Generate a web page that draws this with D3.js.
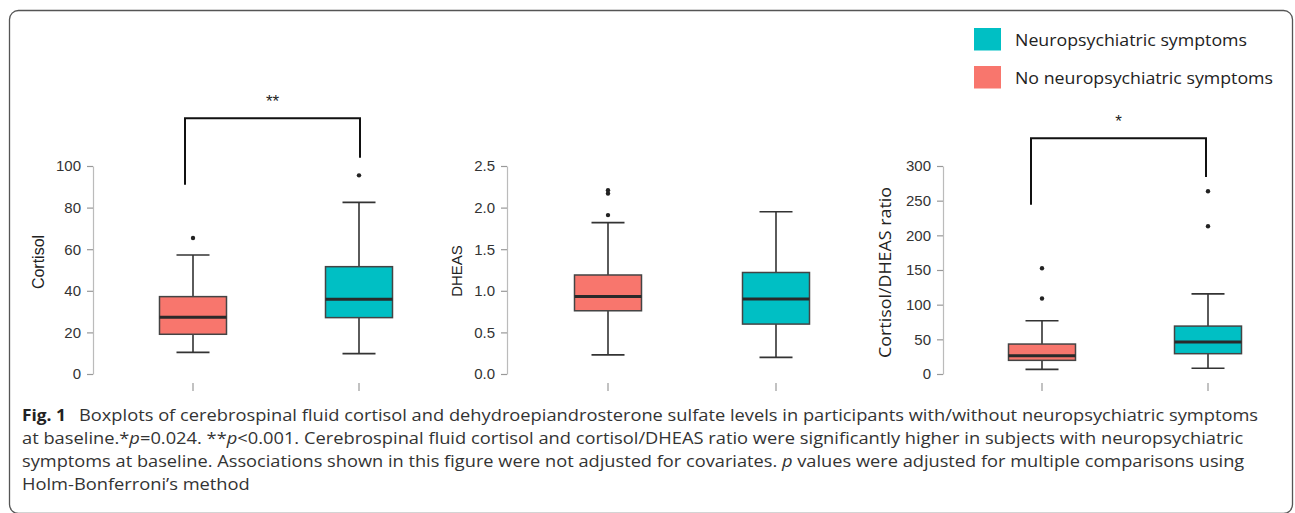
<!DOCTYPE html>
<html>
<head>
<meta charset="utf-8">
<script src="https://cdn.jsdelivr.net/npm/d3@7"></script>
<style>
  html, body { margin: 0; padding: 0; background: #fff; }
  svg { display: block; }
</style>
</head>
<body>
<svg id="chart" width="1295" height="513"></svg>
<script>
// ---------------- DATA ----------------
const groups = ["No neuropsychiatric symptoms", "Neuropsychiatric symptoms"];
const groupColors = ["#F8766D", "#00BFC4"];
const legendOrder = ["Neuropsychiatric symptoms", "No neuropsychiatric symptoms"];

// box stats: [lower whisker, Q1, median, Q3, upper whisker]
const cortisolNo = [10.4, 19.1, 27.3, 37.2, 57.2];
const cortisolYes = [9.8, 27.1, 35.9, 51.6, 82.5];
const cortisolNoOut = [65.4];
const cortisolYesOut = [95.5];
const cortisolTicks = [0, 20, 40, 60, 80, 100];
const cortisolBracket = [91, 123, 104]; // left leg end, top, right leg end (data units)
const cortisolSig = "**";

const dheasNo = [0.23, 0.76, 0.93, 1.19, 1.82];
const dheasYes = [0.20, 0.60, 0.90, 1.22, 1.95];
const dheasNoOut = [1.91, 2.17, 2.21];
const dheasYesOut = [];
const dheasTicks = [0, 0.5, 1.0, 1.5, 2.0, 2.5];

const ratioNo = [6.7, 19.7, 26.4, 43.2, 76.8];
const ratioYes = [8.2, 29.3, 46.1, 69.1, 115.6];
const ratioNoOut = [109, 152.6];
const ratioYesOut = [213, 263.5];
const ratioTicks = [0, 50, 100, 150, 200, 250, 300];
const ratioBracket = [244, 340, 284];
const ratioSig = "*";

const captionBold = "Fig. 1";
const captionLine1 = "Boxplots of cerebrospinal fluid cortisol and dehydroepiandrosterone sulfate levels in participants with/without neuropsychiatric symptoms";
const captionLine2 = [["at baseline.*", false], ["p", true], ["=0.024. **", false], ["p", true], ["<0.001. Cerebrospinal fluid cortisol and cortisol/DHEAS ratio were significantly higher in subjects with neuropsychiatric", false]];
const captionLine3 = [["symptoms at baseline. Associations shown in this figure were not adjusted for covariates. ", false], ["p", true], [" values were adjusted for multiple comparisons using", false]];
const captionLine4 = "Holm-Bonferroni\u2019s method";

// ---------------- LAYOUT ----------------
const svg = d3.select("#chart");
const tickFont = "'Liberation Sans', Arial, sans-serif";
const humanFont = "'Open Sans', 'Noto Sans', sans-serif";

// outer frame
svg.append("rect")
  .attr("x", 9.5).attr("y", 10.5)
  .attr("width", 1283).attr("height", 503)
  .attr("rx", 9).attr("ry", 9)
  .attr("fill", "none").attr("stroke", "#555").attr("stroke-width", 1.3);

const panels = [
  { stats: [cortisolNo, cortisolYes], outs: [cortisolNoOut, cortisolYesOut], ticks: cortisolTicks,
    domain: [0, 100], axisX: 93, xr: [193, 359], label: "Cortisol", labelX: 38, labelY: 262,
    labelFont: tickFont, labelSize: 16, bracket: cortisolBracket, sig: cortisolSig, bOff: [-8, 1] },
  { stats: [dheasNo, dheasYes], outs: [dheasNoOut, dheasYesOut], ticks: dheasTicks,
    domain: [0, 2.5], axisX: 507, xr: [608, 776], label: "DHEAS", labelX: 456, labelY: 271,
    labelFont: tickFont, labelSize: 15, fmt: d3.format(".1f") },
  { stats: [ratioNo, ratioYes], outs: [ratioNoOut, ratioYesOut], ticks: ratioTicks,
    domain: [0, 300], axisX: 943, xr: [1042, 1208], label: "Cortisol/DHEAS ratio", labelX: 884, labelY: 272.5,
    labelFont: humanFont, labelSize: 17, labelLen: 171, bracket: ratioBracket, sig: ratioSig, bOff: [-11, -2] }
];

const yTop = 166, yBottom = 374;
const boxW = 67, capW = 33;

panels.forEach(p => {
  const y = d3.scaleLinear().domain(p.domain).range([yBottom, yTop]);
  const x = d3.scalePoint().domain(groups).range(p.xr);
  const g = svg.append("g");

  // y axis
  const axis = d3.axisLeft(y).tickValues(p.ticks).tickSize(6).tickSizeOuter(0).tickPadding(6);
  if (p.fmt) axis.tickFormat(p.fmt);
  const ag = g.append("g").attr("transform", `translate(${p.axisX},0)`).call(axis);
  ag.select(".domain").attr("stroke", "#bbb").attr("stroke-width", 1.2);
  ag.selectAll(".tick line").attr("stroke", "#999").attr("stroke-width", 1.2);
  ag.selectAll(".tick text").attr("fill", "#333").style("font-family", tickFont).style("font-size", "15px");

  // x ticks (no axis line)
  g.selectAll(".xt").data(groups).enter().append("line")
    .attr("x1", d => x(d)).attr("x2", d => x(d))
    .attr("y1", 383).attr("y2", 391)
    .attr("stroke", "#999").attr("stroke-width", 1.2);

  // y axis label
  const lab = g.append("text")
    .attr("transform", `translate(${p.labelX},${p.labelY}) rotate(-90)`)
    .attr("text-anchor", "middle").attr("dominant-baseline", "central")
    .style("font-family", p.labelFont).style("font-size", p.labelSize + "px")
    .attr("fill", "#222").text(p.label);
  if (p.labelLen) lab.attr("textLength", p.labelLen).attr("lengthAdjust", "spacingAndGlyphs");

  // boxes
  groups.forEach((grp, i) => {
    const s = p.stats[i];
    const cx = x(grp);
    const bg = g.append("g");
    // whisker stems
    bg.append("line").attr("x1", cx).attr("x2", cx).attr("y1", y(s[0])).attr("y2", y(s[1]))
      .attr("stroke", "#333").attr("stroke-width", 1.6);
    bg.append("line").attr("x1", cx).attr("x2", cx).attr("y1", y(s[3])).attr("y2", y(s[4]))
      .attr("stroke", "#333").attr("stroke-width", 1.6);
    // caps
    [s[0], s[4]].forEach(v => {
      bg.append("line").attr("x1", cx - capW / 2).attr("x2", cx + capW / 2)
        .attr("y1", y(v)).attr("y2", y(v)).attr("stroke", "#333").attr("stroke-width", 1.6);
    });
    // box
    bg.append("rect").attr("x", cx - boxW / 2).attr("width", boxW)
      .attr("y", y(s[3])).attr("height", y(s[1]) - y(s[3]))
      .attr("fill", groupColors[i]).attr("stroke", "#444").attr("stroke-width", 1.5);
    // median
    bg.append("line").attr("x1", cx - boxW / 2).attr("x2", cx + boxW / 2)
      .attr("y1", y(s[2])).attr("y2", y(s[2])).attr("stroke", "#2a2a2a").attr("stroke-width", 3);
    // outliers
    bg.selectAll(".o").data(p.outs[i]).enter().append("circle")
      .attr("cx", cx).attr("cy", d => y(d)).attr("r", 2.2).attr("fill", "#222");
  });

  // significance bracket
  if (p.bracket) {
    const b = p.bracket;
    const x1 = x(groups[0]) + p.bOff[0], x2 = x(groups[1]) + p.bOff[1];
    g.append("path")
      .attr("d", `M${x1},${y(b[0])}V${y(b[1])}H${x2}V${y(b[2])}`)
      .attr("fill", "none").attr("stroke", "#111").attr("stroke-width", 2);
    g.append("text")
      .attr("x", (x1 + x2) / 2).attr("y", y(b[1]) - 11)
      .attr("text-anchor", "middle")
      .style("font-family", tickFont).style("font-size", "17px")
      .attr("fill", "#222").text(p.sig);
  }
});

// legend
const legend = svg.append("g");
legendOrder.forEach((name, i) => {
  const col = groupColors[groups.indexOf(name)];
  legend.append("rect").attr("x", 974).attr("y", 28 + i * 38).attr("width", 27).attr("height", 22.5).attr("fill", col);
  legend.append("text").attr("x", 1015).attr("y", 39 + i * 38)
    .attr("dominant-baseline", "central")
    .style("font-family", humanFont).style("font-size", "17px").attr("fill", "#222")
    .attr("textLength", i === 0 ? 232 : 258).attr("lengthAdjust", "spacingAndGlyphs")
    .text(name);
});

// caption
const cap = svg.append("g").style("font-family", humanFont).style("font-size", "16.5px").attr("fill", "#333");
function fitLine(sel, x0, x1) {
  const w = sel.node().getBBox().width;
  const k = (x1 - x0) / w;
  sel.attr("transform", `translate(${x0},0) scale(${k},1) translate(${-x0},0)`);
}
const fig = cap.append("text").attr("x", 22).attr("y", 421).style("font-weight", "bold").attr("fill", "#222").text(captionBold);
fitLine(fig, 22, 66);
const l1 = cap.append("text").attr("x", 79).attr("y", 421).text(captionLine1);
fitLine(l1, 79, 1259);
function segLine(segs, yy) {
  const t = cap.append("text").attr("x", 22).attr("y", yy);
  segs.forEach(s => t.append("tspan").style("font-style", s[1] ? "italic" : "normal").text(s[0]));
  return t;
}
fitLine(segLine(captionLine2, 444), 22, 1245);
fitLine(segLine(captionLine3, 467), 22, 1245);
const l4 = cap.append("text").attr("x", 22).attr("y", 490).text(captionLine4);
fitLine(l4, 22, 250);
</script>
</body>
</html>
